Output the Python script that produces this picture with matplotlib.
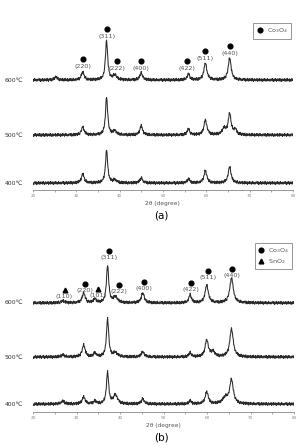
import numpy as np
import matplotlib
matplotlib.use("agg")
import matplotlib.pyplot as plt
from matplotlib.lines import Line2D
from matplotlib.ticker import MultipleLocator

# ---- data (heights in arbitrary counts) ----
temps = ["400℃", "500℃", "600℃"]

# panel (a): Co3O4 only
pos_a = [25.3, 31.5, 37.0, 38.9, 45.0, 55.9, 59.8, 64.1, 65.4, 66.7]
wid_a = [0.8, 0.75, 0.6, 0.9, 0.75, 0.7, 0.8, 1.0, 0.8, 0.7]
a400 = [0, 9, 33, 3, 5, 4, 12, 0, 16, 0]
a500 = [0, 8, 38, 4, 9, 6, 15, 6, 21, 5]
a600 = [3, 8, 40, 5, 7, 6, 17, 0, 22, 0]
offs_a = [0, 48, 103]

# panel (b): Co3O4 + SnO2
pos_b = [26.8, 31.6, 34.2, 37.1, 38.9, 45.2, 56.1, 59.9, 61.3, 64.2, 65.6]
wid_b = [0.9, 0.8, 0.7, 0.6, 1.1, 0.8, 0.7, 0.85, 1.0, 1.5, 0.95]
b400 = [3, 7, 3, 32, 9, 5, 3, 12, 0, 6, 24]
b500 = [2, 12, 4, 39, 4, 5, 4, 17, 5, 0, 28]
b600 = [2, 10, 4, 38, 6, 10, 8, 18, 0, 0, 25]
offs_b = [0, 47, 101]

# baseline jitter, hand typed
jitter = [0.3, -0.5, 0.8, -0.2, -0.9, 0.4, 0.1, -0.6, 0.9, -0.3, 0.5, -0.8,
          0.2, 0.7, -0.4, -0.1, 0.6, -0.7, 0.3, 0.9, -0.5, 0.0, -0.9, 0.4,
          0.7, -0.2, -0.6, 0.5, 0.1, -0.4, 0.8, -0.8, 0.2, -0.1, 0.6, -0.7,
          0.9, -0.3, 0.4, -0.5, 0.0, 0.7, -0.9, 0.3, -0.2, 0.5, -0.6, 0.8,
          -0.4, 0.1, 0.6, -0.8, 0.2, -0.3, 0.9, -0.5, 0.4, -0.1, -0.7, 0.3,
          0.5, -0.6, 0.0, 0.7]

# peak annotations: (label, 2theta, label height, phase)
labels_a = [("(220)", 31.5, 117, "c"), ("(311)", 37.1, 147, "c"),
            ("(222)", 39.4, 115, "c"), ("(400)", 44.9, 115, "c"),
            ("(422)", 55.5, 115, "c"), ("(511)", 59.7, 125, "c"),
            ("(440)", 65.5, 130, "c")]
labels_b = [("(110)", 27.2, 107, "s"), ("(220)", 32.0, 113, "c"),
            ("(101)", 34.8, 108, "s"), ("(311)", 37.5, 146, "c"),
            ("(222)", 39.8, 112, "c"), ("(400)", 45.4, 115, "c"),
            ("(422)", 56.2, 114, "c"), ("(511)", 60.1, 126, "c"),
            ("(440)", 65.7, 128, "c")]

tt = np.arange(20, 80.001, 0.1)


def pattern(pos, wid, hts, shift):
    y = np.zeros_like(tt)
    for c, w, h in zip(pos, wid, hts):
        y += h / (1 + ((tt - c) / (w / 2)) ** 2)
    return y + 1.7 * np.roll(np.resize(jitter, tt.size), shift)


fig = plt.figure(figsize=(3.02, 4.45), dpi=100)
ax_a = fig.add_axes([0.109, 0.573, 0.861, 0.382])
ax_b = fig.add_axes([0.110, 0.074, 0.864, 0.387])

gray = "#555555"
panels = [
    (ax_a, pos_a, wid_a, [a400, a500, a600], offs_a, labels_a, (-7, 163)),
    (ax_b, pos_b, wid_b, [b400, b500, b600], offs_b, labels_b, (-8, 164)),
]

for ax, pos, wid, series, offs, labs, ylim in panels:
    for i, (hts, off, t) in enumerate(zip(series, offs, temps)):
        ax.plot(tt, pattern(pos, wid, hts, 17 * i + 5) + off, color="#2a2a2a", lw=0.75)
        ax.text(-0.073, off, t, transform=ax.get_yaxis_transform(),
                ha="center", va="center", fontsize=4.4, color="#333333")
    for name, x, y, ph in labs:
        ax.text(x, y, name, ha="center", va="center", fontsize=4.6, color=gray)
        ax.plot(x, y + 7, "o" if ph == "c" else "^", color="black", ms=3.4)
    ax.set_xlim(20, 80)
    ax.set_ylim(*ylim)
    for s in ["left", "top", "right"]:
        ax.spines[s].set_visible(False)
    ax.spines["bottom"].set_color("#888888")
    ax.spines["bottom"].set_linewidth(0.6)
    ax.set_yticks([])
    ax.xaxis.set_major_locator(MultipleLocator(10))
    ax.xaxis.set_minor_locator(MultipleLocator(5))
    ax.tick_params(axis="x", which="both", labelsize=3, colors="#888888",
                   length=1.5, width=0.5, pad=1.5)
    ax.set_xlabel("2θ (degree)", fontsize=4.2, color=gray, labelpad=2)

h_c = Line2D([], [], ls="none", marker="o", color="black", ms=3.4)
h_s = Line2D([], [], ls="none", marker="^", color="black", ms=3.4)
for ax, hs, ls in [(ax_a, [h_c], ["Co$_3$O$_4$"]),
                   (ax_b, [h_c, h_s], ["Co$_3$O$_4$", "SnO$_2$"])]:
    lg = ax.legend(hs, ls, loc="upper right", bbox_to_anchor=(1.005, 1.0),
                   fontsize=4.6, frameon=True, fancybox=False, handlelength=1,
                   handletextpad=0.6, borderpad=0.5, labelspacing=0.3)
    lg.get_frame().set_edgecolor("#666666")
    lg.get_frame().set_linewidth(0.6)
    for txt in lg.get_texts():
        txt.set_color(gray)

fig.text(0.535, 1 - 216 / 445, "(a)", ha="center", va="center", fontsize=7.5)
fig.text(0.535, 1 - 438 / 445, "(b)", ha="center", va="center", fontsize=7.5)

fig.savefig("out.png", dpi=100)
